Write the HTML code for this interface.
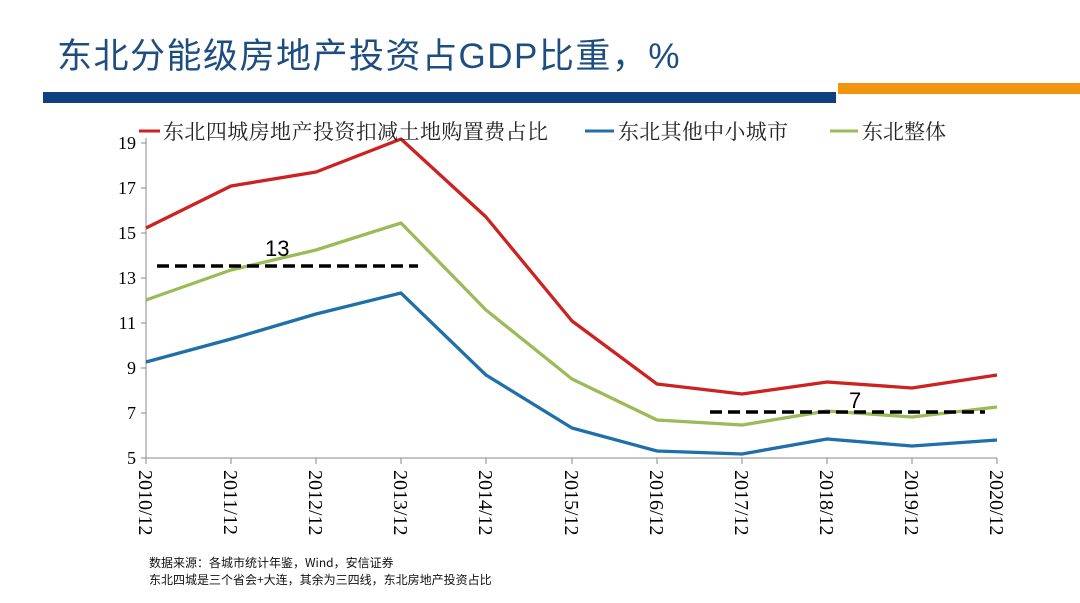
<!DOCTYPE html><html><head><meta charset="utf-8"><style>
body{margin:0;width:1080px;height:603px;background:#fff;overflow:hidden;position:relative;font-family:"Liberation Sans","Noto Sans CJK SC",sans-serif}
.t{position:absolute;left:57px;top:28px;font-size:35px;color:#1e4d80;letter-spacing:1.5px}
</style></head><body>
<div class="t">东北分能级房地产投资占GDP比重，%</div>
<div style="position:absolute;left:43px;top:92px;width:793px;height:11px;background:#0e3f7e"></div>
<div style="position:absolute;left:838px;top:83px;width:242px;height:11px;background:#f3940f"></div>
<svg width="1080" height="603" style="position:absolute;left:0;top:0">
<g font-family="Liberation Serif,serif" font-size="18" fill="#000" text-anchor="end">
<text x="136" y="149">19</text><text x="136" y="194">17</text><text x="136" y="239">15</text><text x="136" y="284">13</text><text x="136" y="329">11</text><text x="136" y="374">9</text><text x="136" y="419">7</text><text x="136" y="464">5</text>
</g>
<g stroke="#888" stroke-width="1"><line x1="146" y1="138" x2="146" y2="458"/><line x1="146" y1="458" x2="997" y2="458"/>
<line x1="141" y1="143" x2="146" y2="143"/><line x1="141" y1="188" x2="146" y2="188"/><line x1="141" y1="233" x2="146" y2="233"/><line x1="141" y1="278" x2="146" y2="278"/><line x1="141" y1="323" x2="146" y2="323"/><line x1="141" y1="368" x2="146" y2="368"/><line x1="141" y1="413" x2="146" y2="413"/><line x1="141" y1="458" x2="146" y2="458"/>
<path d="M146 458v6M231 458v6M316 458v6M401 458v6M486 458v6M572 458v6M657 458v6M742 458v6M827 458v6M912 458v6M997 458v6"/></g>
<g style="font-family:'Liberation Serif',serif" font-size="20" fill="#000">
<text transform="translate(139,470) rotate(90)">2010/12</text><text transform="translate(224,470) rotate(90)">2011/12</text><text transform="translate(309,470) rotate(90)">2012/12</text><text transform="translate(394,470) rotate(90)">2013/12</text><text transform="translate(479,470) rotate(90)">2014/12</text><text transform="translate(565,470) rotate(90)">2015/12</text><text transform="translate(650,470) rotate(90)">2016/12</text><text transform="translate(735,470) rotate(90)">2017/12</text><text transform="translate(820,470) rotate(90)">2018/12</text><text transform="translate(905,470) rotate(90)">2019/12</text><text transform="translate(990,470) rotate(90)">2020/12</text>
</g>
<g fill="none" stroke-width="3.3" stroke-linejoin="round">
<polyline stroke="#cc2222" points="146,228 231,186 316,172 401,139 486,217 572,321 657,384 742,394 827,382 912,388 997,375"/>
<polyline stroke="#9bbb59" points="146,300 231,270 316,250 401,223 486,310 572,379 657,420 742,425 827,411 912,417 997,407"/>
<polyline stroke="#1f6fa8" points="146,362 231,339 316,314 401,293 486,375 572,428 657,451 742,454 827,439 912,446 997,440"/>
</g>
<g stroke="#000" stroke-width="3.5" stroke-dasharray="12,6"><line x1="157" y1="266" x2="418" y2="266"/><line x1="710" y1="412" x2="985" y2="412"/></g>
<text x="265" y="256" font-size="22" font-family="Liberation Sans,sans-serif">13</text>
<text x="849" y="408" font-size="22" font-family="Liberation Sans,sans-serif">7</text>
<g font-size="21" font-family="Noto Serif CJK SC,serif" fill="#222">
<line x1="139" y1="131" x2="160" y2="131" stroke="#cc2222" stroke-width="3"/><text x="163" y="139" textLength="385">东北四城房地产投资扣减土地购置费占比</text>
<line x1="585" y1="131" x2="614" y2="131" stroke="#1f6fa8" stroke-width="3"/><text x="618" y="139" textLength="170">东北其他中小城市</text>
<line x1="830" y1="131" x2="858" y2="131" stroke="#9bbb59" stroke-width="3"/><text x="862" y="139" textLength="84">东北整体</text>
</g>
<g font-size="12" font-family="Noto Sans CJK SC,sans-serif" fill="#111">
<text x="149" y="567">数据来源：各城市统计年鉴，Wind，安信证券</text>
<text x="149" y="584">东北四城是三个省会+大连，其余为三四线，东北房地产投资占比</text>
</g>
</svg>
</body></html>
